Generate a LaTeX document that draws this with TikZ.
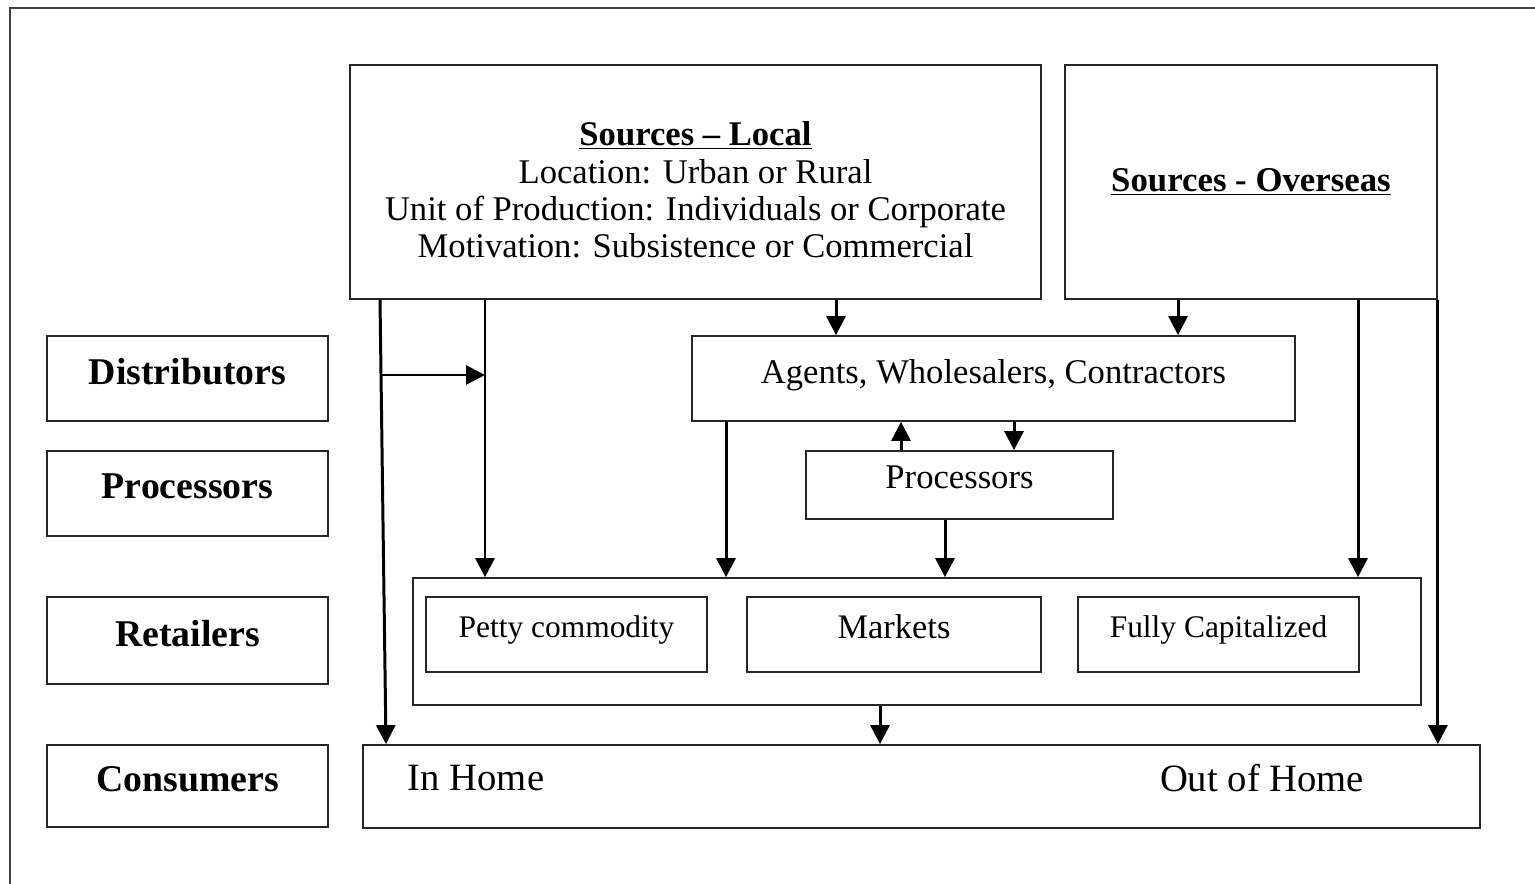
\documentclass[tikz,border=0pt]{standalone}
\usepackage{fontspec}
\setmainfont{Liberation Serif}
\usetikzlibrary{arrows.meta}

\tikzset{
	box/.style={draw=black!85, line width=1pt, inner sep=0pt},
	cell/.style={box, text depth=0.3cm},
	tag/.style={cell, minimum width=5.62cm, font=\fontsize{21.5}{24}\selectfont\bfseries},
	flow/.style={line width=1.7pt, -{Triangle[length=0.38cm,width=0.38cm]}}
}

\begin{document}
\begin{tikzpicture}[x=0.02cm, y=-0.02cm]
	\useasboundingbox (0,0) rectangle (1535,884);
	% Frame
	\draw [black!75, line width=1.2pt] (10,884) -- (10,8) -- (1535,8);
	% Sources
	\node[box, minimum width=13.82cm, minimum height=4.68cm] (local) at (695.5,182) {};
	\node[align=center, font=\fontsize{19.7}{21.3}\selectfont] (localtxt) at (695.5,190)
	      {\textbf{\underline{Sources -- Local}}\\Location: Urban or Rural\\
	       Unit of Production: Individuals or Corporate\\Motivation: Subsistence or Commercial};
	\node[box, minimum width=7.44cm, minimum height=4.68cm,
	      font=\fontsize{19.8}{24}\selectfont\bfseries] (overseas) at (1251,182)
	      {\underline{Sources - Overseas}};
	% Left column
	\node[tag, minimum height=1.70cm] (distrib) at (187.5,378.5) {Distributors};
	\node[tag, minimum height=1.70cm] (procs) at (187.5,493.5) {Processors};
	\node[tag, minimum height=1.74cm] (retailers) at (187.5,640.5) {Retailers};
	\node[tag, minimum height=1.64cm] (consumers) at (187.5,786) {Consumers};
	% Middle
	\node[cell, minimum width=12.06cm, minimum height=1.70cm,
	      font=\fontsize{19.7}{24}\selectfont] (agents) at (993.5,378.5)
	      {Agents, Wholesalers, Contractors};
	\node[cell, minimum width=6.14cm, minimum height=1.36cm,
	      font=\fontsize{19.7}{24}\selectfont] (proc) at (959.5,485) {Processors};
	\node[box, minimum width=20.16cm, minimum height=2.54cm] (retail) at (917,641.5) {};
	\node[cell, minimum width=5.62cm, minimum height=1.50cm,
	      font=\fontsize{17.9}{22}\selectfont] (petty) at (566.5,634.5) {Petty commodity};
	\node[cell, minimum width=5.88cm, minimum height=1.50cm,
	      font=\fontsize{19.6}{22}\selectfont] (markets) at (894,634.5) {Markets};
	\node[cell, minimum width=5.62cm, minimum height=1.50cm,
	      font=\fontsize{17.9}{22}\selectfont] (fully) at (1218.5,634.5) {Fully Capitalized};
	\node[box, minimum width=22.34cm, minimum height=1.66cm] (home) at (921.5,786.5) {};
	\node[font=\fontsize{22}{24}\selectfont] (inhome) at (476,778) {In Home};
	\node[font=\fontsize{22}{24}\selectfont] (outhome) at (1262,778) {Out of Home};
	% Arrow columns
	\foreach \n/\x in {a1/836, a2/1178, a3/901, a4/1014, a5/726, a6/945,
	                   a7/1358, a8/880, a9/380, a10/386, a11/485}
		\coordinate (\n) at (\x,0);
	\coordinate (split) at (382,375);
	% Flows
	\draw [flow] (local.south -| a1) -- (agents.north -| a1);
	\draw [flow] (overseas.south -| a2) -- (agents.north -| a2);
	\draw [flow] (proc.north -| a3) -- (agents.south -| a3);
	\draw [flow] (agents.south -| a4) -- (proc.north -| a4);
	\draw [flow] (agents.south -| a5) -- (retail.north -| a5);
	\draw [flow] (proc.south -| a6) -- (retail.north -| a6);
	\draw [flow] (overseas.south -| a7) -- (retail.north -| a7);
	\draw [flow] (retail.south -| a8) -- (home.north -| a8);
	\draw [flow] (overseas.south east) -- (home.north -| overseas.east);
	\draw [flow] (local.south -| a9) -- (home.north -| a10);
	\draw [flow] (local.south -| a11) -- (retail.north -| a11);
	\draw [flow] (split) -- (split -| a11);
\end{tikzpicture}
\end{document}
